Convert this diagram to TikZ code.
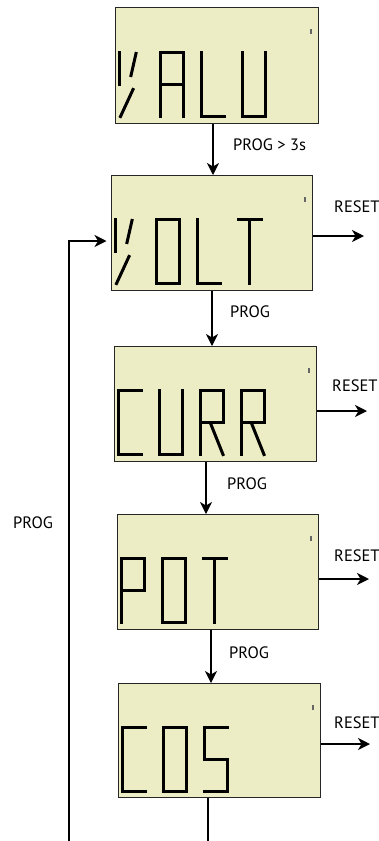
\documentclass[tikz,border=0pt]{standalone}
\usepackage{fontspec}
\setmainfont{PT Sans}
\usetikzlibrary{arrows.meta}
\definecolor{lcdbg}{RGB}{237,237,197}
\def\lcdsA{\draw[lcdseg] (0,0)--(23,0);}
\def\lcdsB{\draw[lcdseg] (23,0)--(23,32);}
\def\lcdsC{\draw[lcdseg] (23,32)--(23,64);}
\def\lcdsD{\draw[lcdseg] (0,64)--(23,64);}
\def\lcdsE{\draw[lcdseg] (0,32)--(0,64);}
\def\lcdsF{\draw[lcdseg] (0,0)--(0,32);}
\def\lcdsG{\draw[lcdseg] (0,32)--(23,32);}
\def\lcdsH{\draw[lcdseg] (11.5,0)--(11.5,32);}
\def\lcdsK{\draw[lcdseg] (11.5,32)--(11.5,64);}
\tikzset{
  x=1pt, y=-1pt,
  lcdseg/.style={line width=3pt, line cap=rect, black},
  lcdbox/.style={draw=black!85, line width=1pt, fill=lcdbg, anchor=north west,
    minimum width=202pt, minimum height=115pt, inner sep=0pt},
  tick/.style={line width=1.1pt, black!60},
  arr/.style={line width=1.4pt, -{Stealth[length=12pt,width=12pt,inset=3.5pt]}},
  conn/.style={line width=1.4pt},
  lbl/.style={font=\fontsize{16.5}{19}\selectfont, anchor=west, inner sep=0pt},
  pics/lcdV/.style={code={\lcdsF \draw[lcdseg] (17,1)--(12,23); \draw[lcdseg] (14,37)--(1.5,64);}},
  pics/lcdA/.style={code={\lcdsA\lcdsB\lcdsC\lcdsE\lcdsF\lcdsG}},
  pics/lcdL/.style={code={\lcdsD\lcdsE\lcdsF}},
  pics/lcdU/.style={code={\lcdsB\lcdsC\lcdsD\lcdsE\lcdsF}},
  pics/lcdO/.style={code={\lcdsA\lcdsB\lcdsC\lcdsD\lcdsE\lcdsF}},
  pics/lcdT/.style={code={\lcdsA\lcdsH\lcdsK}},
  pics/lcdC/.style={code={\lcdsA\lcdsD\lcdsE\lcdsF}},
  pics/lcdR/.style={code={\lcdsA\lcdsB\lcdsE\lcdsF\lcdsG \draw[lcdseg] (11,34)--(23,64);}},
  pics/lcdP/.style={code={\lcdsA\lcdsB\lcdsE\lcdsF\lcdsG}},
  pics/lcdS/.style={code={\lcdsA\lcdsF\lcdsG\lcdsC\lcdsD}},
}
\begin{document}
\begin{tikzpicture}
\useasboundingbox (0,0) rectangle (378,841);
% boxes
\node[lcdbox, minimum width=203pt, minimum height=116pt] (b1) at (115,7) {};
\node[lcdbox, minimum width=201pt] (b2) at (111,175) {};
\node[lcdbox] (b3) at (114,346) {};
\node[lcdbox, minimum width=201pt] (b4) at (117,514) {};
\node[lcdbox, minimum height=114pt] (b5) at (118,683) {};
% ticks
\foreach \b in {b1,b2,b3,b4,b5}{
  \draw[tick] ([shift={(-8,22)}]\b.north east) -- ([shift={(-8,27)}]\b.north east);
}
% glyphs
\begin{scope}[shift={(b1.north west)}]
  \pic at (4,45.5) {lcdV}; \pic at (45,45.5) {lcdA}; \pic at (86,45.5) {lcdL}; \pic at (127,45.5) {lcdU};
\end{scope}
\begin{scope}[shift={(b2.north west)}]
  \pic at (4,44.5) {lcdV}; \pic at (45,44.5) {lcdO}; \pic at (86,44.5) {lcdL}; \pic at (127,44.5) {lcdT};
\end{scope}
\begin{scope}[shift={(b3.north west)}]
  \pic at (4,44.5) {lcdC}; \pic at (45,44.5) {lcdU}; \pic at (86,44.5) {lcdR}; \pic at (127,44.5) {lcdR};
\end{scope}
\begin{scope}[shift={(b4.north west)}]
  \pic at (4,44.5) {lcdP}; \pic at (45,44.5) {lcdO}; \pic at (86,44.5) {lcdT};
\end{scope}
\begin{scope}[shift={(b5.north west)}]
  \pic at (4,44.5) {lcdC}; \pic at (45,44.5) {lcdO}; \pic at (86,44.5) {lcdS};
\end{scope}
% vertical connectors
\coordinate (x12) at (213,0);
\coordinate (x23) at (212,0);
\coordinate (x34) at (206,0);
\coordinate (x45) at (211,0);
\coordinate (x5e) at (208,841);
\draw[arr] (b1.south -| x12) -- (b2.north -| x12);
\draw[arr] (b2.south -| x23) -- (b3.north -| x23);
\draw[arr] (b3.south -| x34) -- (b4.north -| x34);
\draw[arr] (b4.south -| x45) -- (b5.north -| x45);
\draw[conn] (b5.south -| x5e) -- (x5e);
% loop back
\coordinate (lb) at (69,841);
\coordinate (ly) at (0,241);
\draw[arr, shorten >=4.5pt] (lb) |- (b2.west |- ly);
% reset arrows
\coordinate (r2) at (364,236);
\coordinate (r3) at (367,411);
\coordinate (r4) at (369,579);
\coordinate (r5) at (370,744);
\draw[arr] (b2.east |- r2) -- (r2);
\draw[arr] (b3.east |- r3) -- (r3);
\draw[arr] (b4.east |- r4) -- (r4);
\draw[arr] (b5.east |- r5) -- (r5);
% labels
\node[lbl] (l12) at (233,145) {PROG > 3s};
\node[lbl] (l23) at (230,312) {PROG};
\node[lbl] (l34) at (227,484) {PROG};
\node[lbl] (l45) at (229,653) {PROG};
\node[lbl] (lloop) at (13,523) {PROG};
\node[lbl] (t2) at (334,207) {RESET};
\node[lbl] (t3) at (332,386) {RESET};
\node[lbl] (t4) at (334,556) {RESET};
\node[lbl] (t5) at (334,723) {RESET};
\end{tikzpicture}
\end{document}
